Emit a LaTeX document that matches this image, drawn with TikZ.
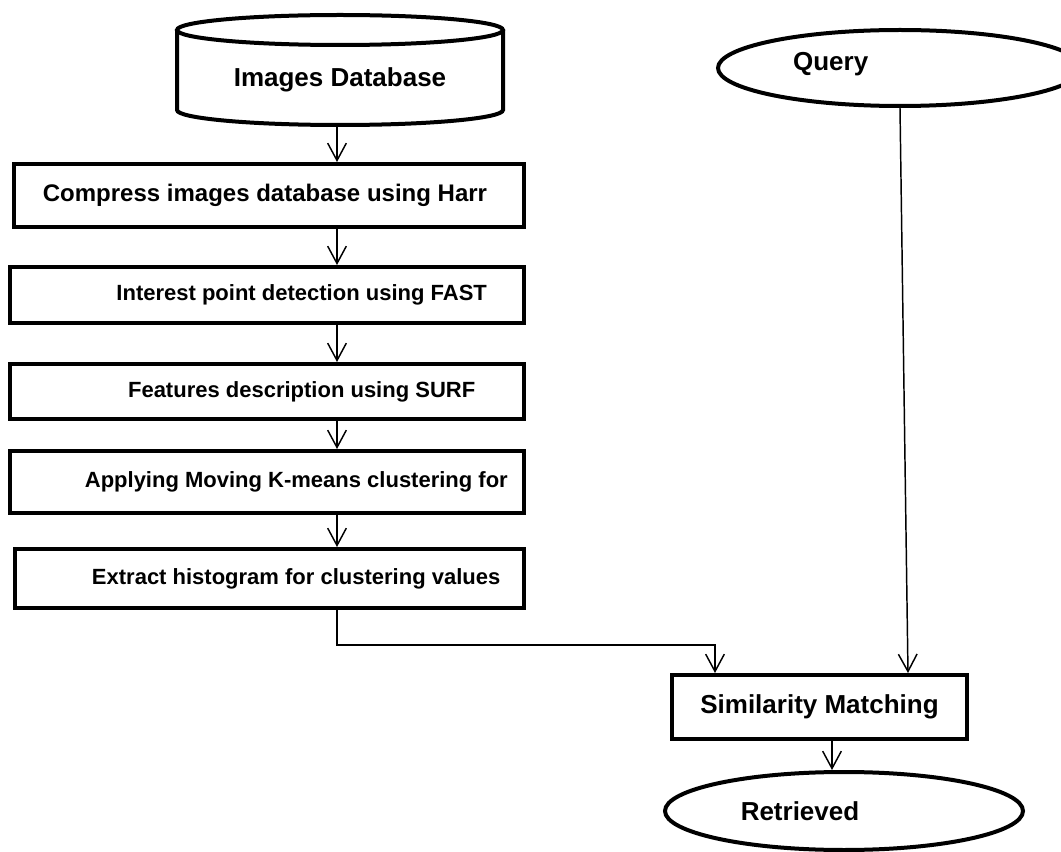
\documentclass[tikz,border=0pt]{standalone}
\usepackage{fontspec}
\setmainfont{Liberation Sans}
\usetikzlibrary{arrows.meta,shapes.geometric,calc}
\begin{document}
\begin{tikzpicture}[x=0.75pt,y=0.75pt,
  font=\fontsize{19.5}{23}\selectfont\bfseries,
  box/.style={draw,line width=3pt,rectangle,anchor=north west,inner sep=0pt},
  stepbox/.style={box,font=\fontsize{16.5}{20}\selectfont\bfseries},
  oval/.style={draw,line width=3pt,ellipse,inner sep=0pt},
  conn/.style={line width=1.1pt,-{Straight Barb[length=13pt,width=14pt,line width=1.1pt]}}]
\useasboundingbox (0,0) rectangle (1061,-852);
% column coordinates
\coordinate (colx) at (337,0);
\coordinate (lx) at (715,0);
\coordinate (qx) at (908,0);
\coordinate (rx) at (832,0);
% database cylinder
\node (db) at (340,-80) {Images Database};
\draw[line width=3pt] (340,-30) ellipse[x radius=163, y radius=15];
\draw[line width=3pt] (177,-30) -- (177,-110) arc[start angle=180,end angle=360,x radius=163,y radius=15] -- (503,-30);
\coordinate (dbb) at (337,-125);
% process boxes
\node[stepbox,minimum width=382.5pt,minimum height=47.25pt,font=\fontsize{18}{22}\selectfont\bfseries] (b1) at (12,-162) {\hspace*{-6pt}Compress images database using Harr};
\node[stepbox,minimum width=385.5pt,minimum height=42pt] (b2) at (8,-265) {\hspace*{52pt}Interest point detection using FAST};
\node[stepbox,minimum width=385.5pt,minimum height=41.25pt] (b3) at (8,-362) {\hspace*{52pt}Features description using SURF};
\node[stepbox,minimum width=385.5pt,minimum height=46.5pt] (b4) at (8,-449) {\hspace*{44pt}Applying Moving K-means clustering for};
\node[stepbox,minimum width=381.75pt,minimum height=44.25pt] (b5) at (13,-547) {\hspace*{40pt}Extract histogram for clustering values};
% right side
\node[oval,minimum width=273pt,minimum height=57pt,label={[xshift=-52pt,yshift=3pt]center:Query}] (q) at (900,-68) {};
\node[box,minimum width=221.25pt,minimum height=48pt] (sim) at (670,-673) {Similarity Matching};
\node[oval,minimum width=268.5pt,minimum height=58.5pt,label={[xshift=-33pt]center:Retrieved}] (ret) at (844,-811) {};
% connectors
\draw[conn] (dbb) -- (b1.north -| colx);
\draw[conn] (b1.south -| colx) -- (b2.north -| colx);
\draw[conn] (b2.south -| colx) -- (b3.north -| colx);
\draw[conn] (b3.south -| colx) -- (b4.north -| colx);
\draw[conn] (b4.south -| colx) -- (b5.north -| colx);
\draw[conn] (b5.south -| colx) -- ++(0,-35) -| (sim.north -| lx);
\draw[conn] (q.south) -- (sim.north -| qx);
\draw[conn] (sim.south -| rx) -- (ret.north -| rx);
\end{tikzpicture}
\end{document}
